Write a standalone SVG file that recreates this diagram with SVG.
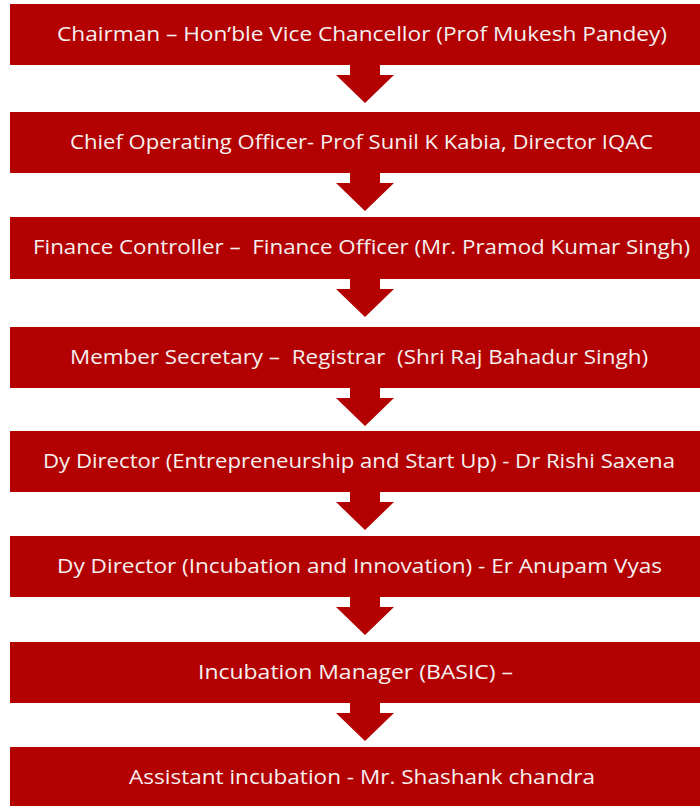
<svg xmlns="http://www.w3.org/2000/svg" width="700" height="806" viewBox="0 0 700 806">
<style>
.box{fill:#b30000}
.lbl{fill:#f6f0f0;font-family:"Open Sans","Noto Sans",sans-serif;font-size:20.5px;text-anchor:middle;white-space:pre}
.arr{fill:#b30000}
</style>
<defs>
<path id="arrow" d="M-15,0 H15 V10 H29 L0,38 L-29,10 H-15 Z"/>
</defs>
<rect width="700" height="806" fill="#ffffff"/>
<g id="connectors">
<use href="#arrow" class="arr" x="365" y="65"/>
<use href="#arrow" class="arr" x="365" y="173"/>
<use href="#arrow" class="arr" x="365" y="279"/>
<use href="#arrow" class="arr" x="365" y="388"/>
<use href="#arrow" class="arr" x="365" y="492"/>
<use href="#arrow" class="arr" x="365" y="597"/>
<use href="#arrow" class="arr" x="365" y="703"/>
</g>
<g id="n1"><rect class="box" x="10" y="4" width="690" height="61"/><text class="lbl" x="362" y="41" textLength="610" lengthAdjust="spacingAndGlyphs">Chairman – Hon’ble Vice Chancellor (Prof Mukesh Pandey)</text></g>
<g id="n2"><rect class="box" x="10" y="112" width="690" height="61"/><text class="lbl" x="361.5" y="149" textLength="583" lengthAdjust="spacingAndGlyphs">Chief Operating Officer- Prof Sunil K Kabia, Director IQAC</text></g>
<g id="n3"><rect class="box" x="10" y="217" width="690" height="62"/><text class="lbl" x="361.5" y="254" textLength="657" lengthAdjust="spacingAndGlyphs">Finance Controller –  Finance Officer (Mr. Pramod Kumar Singh)</text></g>
<g id="n4"><rect class="box" x="10" y="327" width="690" height="61"/><text class="lbl" x="359" y="364" textLength="578" lengthAdjust="spacingAndGlyphs">Member Secretary –  Registrar  (Shri Raj Bahadur Singh)</text></g>
<g id="n5"><rect class="box" x="10" y="431" width="690" height="61"/><text class="lbl" x="359" y="468" textLength="632" lengthAdjust="spacingAndGlyphs">Dy Director (Entrepreneurship and Start Up) - Dr Rishi Saxena</text></g>
<g id="n6"><rect class="box" x="10" y="536" width="690" height="61"/><text class="lbl" x="359.5" y="573" textLength="605" lengthAdjust="spacingAndGlyphs">Dy Director (Incubation and Innovation) - Er Anupam Vyas</text></g>
<g id="n7"><rect class="box" x="10" y="642" width="690" height="61"/><text class="lbl" x="355.5" y="679" textLength="315" lengthAdjust="spacingAndGlyphs">Incubation Manager (BASIC) –</text></g>
<g id="n8"><rect class="box" x="10" y="747" width="690" height="59"/><text class="lbl" x="362" y="784" textLength="466" lengthAdjust="spacingAndGlyphs">Assistant incubation - Mr. Shashank chandra</text></g>
</svg>
